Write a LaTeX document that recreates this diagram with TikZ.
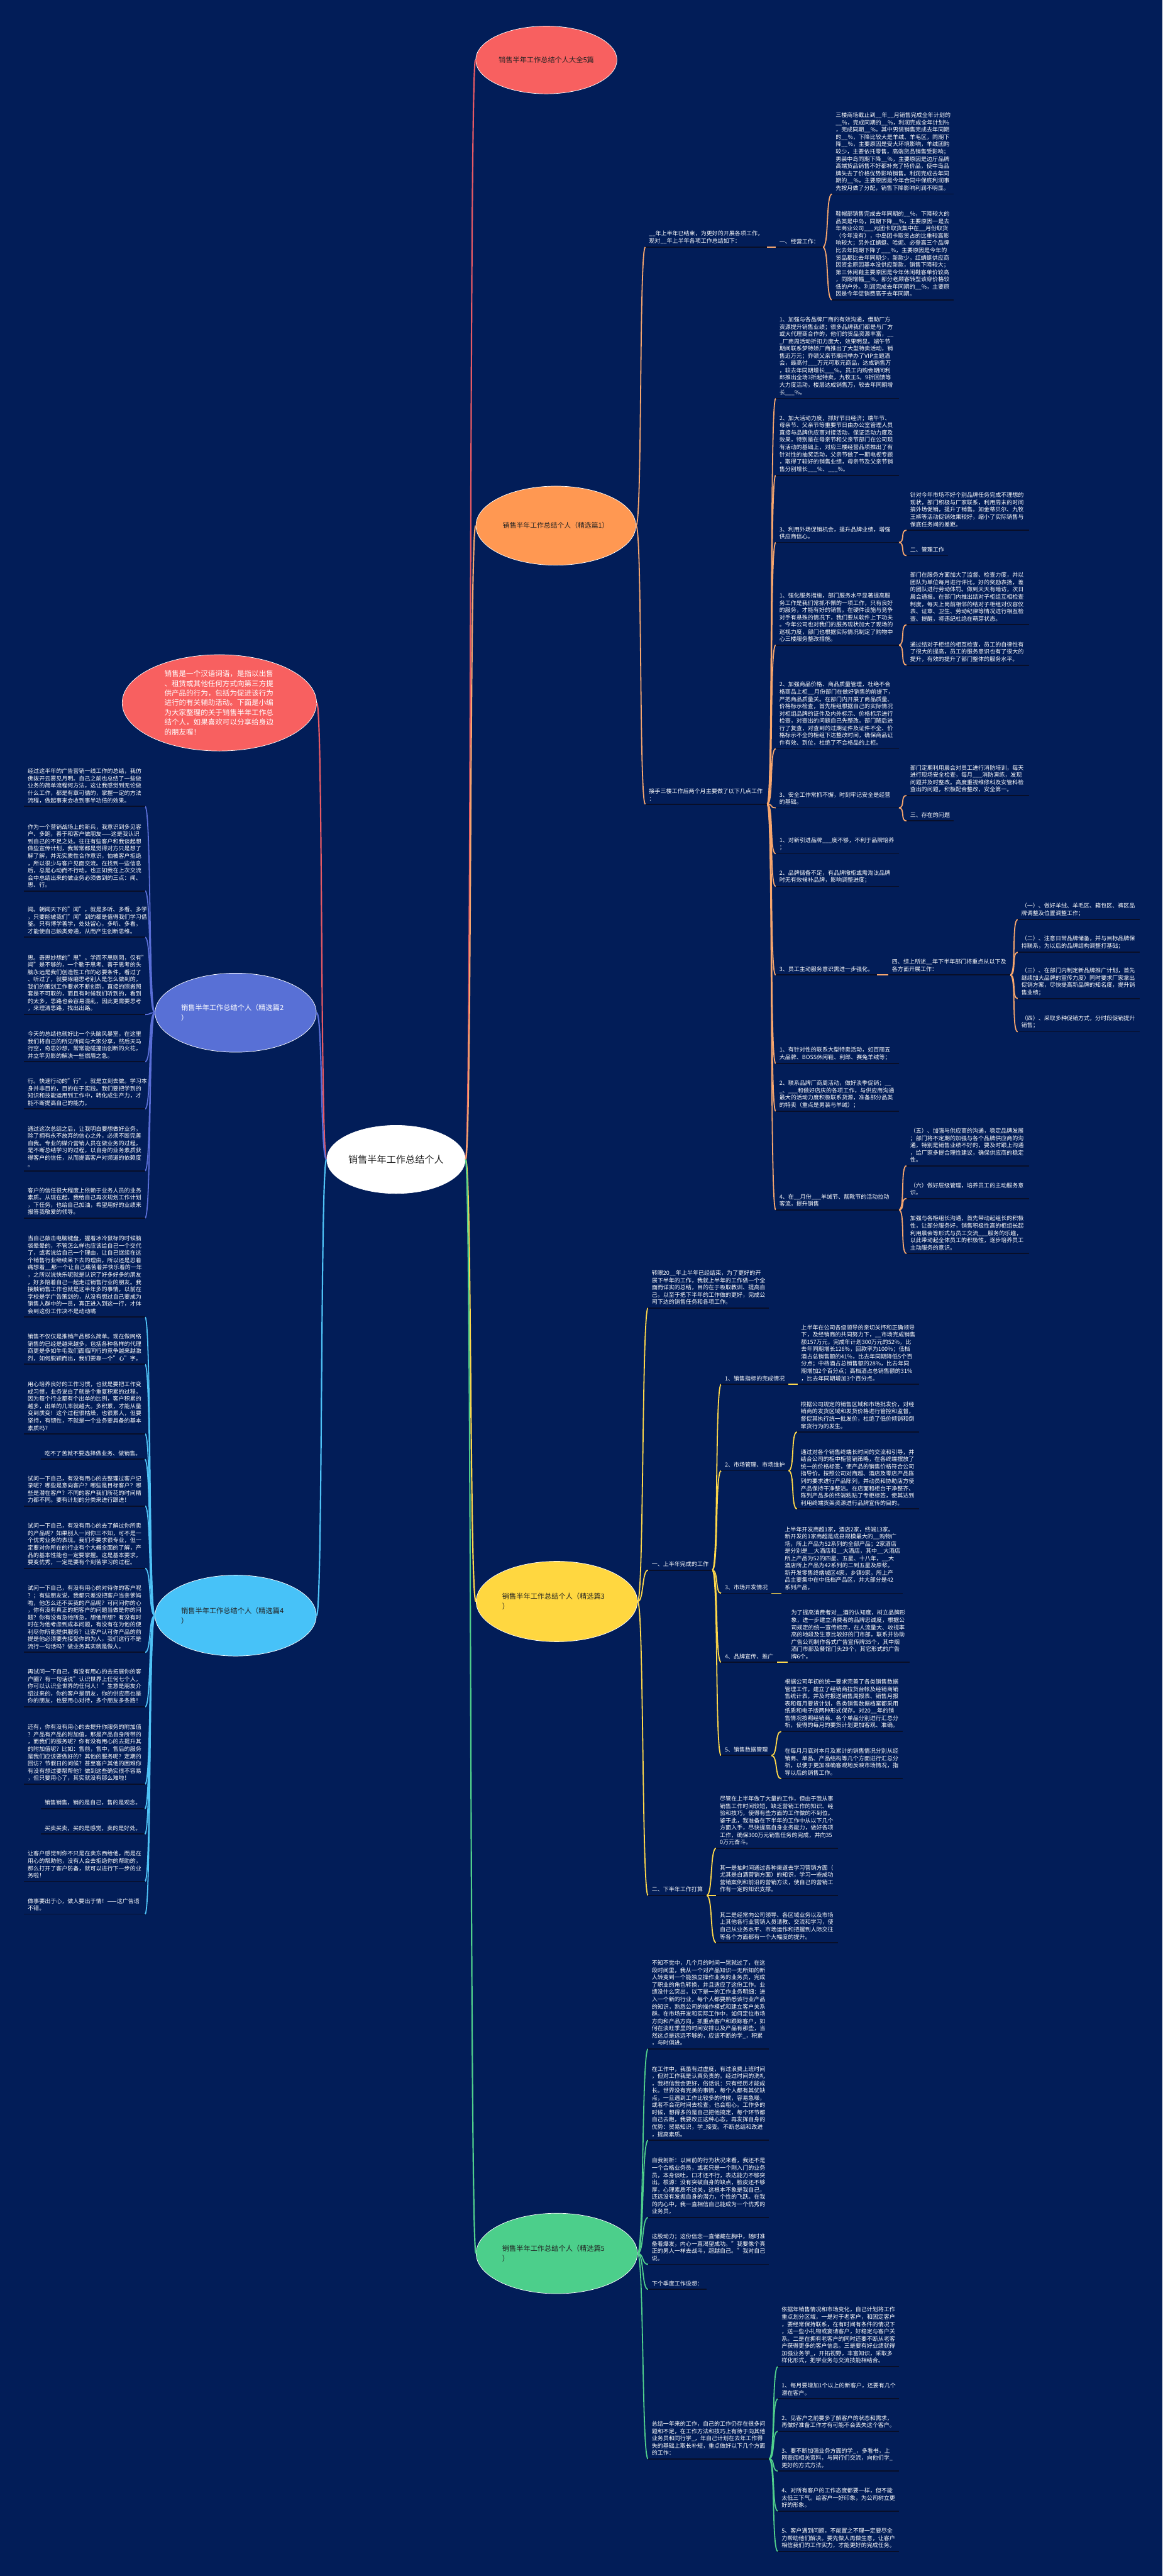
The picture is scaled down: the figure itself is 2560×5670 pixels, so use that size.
\documentclass[tikz,border=0pt]{standalone}
\usepackage{fontspec}
\setmainfont{Noto Sans CJK SC}
\usetikzlibrary{shapes.geometric}
\definecolor{bg}{RGB}{2,29,88}
\definecolor{ulc}{RGB}{8,14,40}
\definecolor{txd}{RGB}{34,34,34}
\definecolor{cOr}{RGB}{247,166,110}
\definecolor{cRd}{RGB}{232,90,100}
\definecolor{cBl}{RGB}{90,110,215}
\definecolor{cCy}{RGB}{79,195,247}
\definecolor{cYe}{RGB}{255,216,74}
\definecolor{cGr}{RGB}{80,208,140}
\definecolor{fRd}{RGB}{248,96,96}
\definecolor{fOr}{RGB}{255,152,82}
\definecolor{fBl}{RGB}{88,112,214}
\definecolor{fCy}{RGB}{71,194,248}
\definecolor{fYe}{RGB}{255,215,64}
\definecolor{fGr}{RGB}{76,207,139}
\tikzset{
 tb/.style={anchor=south west, inner xsep=8pt, inner ysep=7pt, text=white, align=left, font=\fontsize{12.5}{16}\selectfont},
 tbr/.style={tb, anchor=south east},
 ulline/.style={draw=ulc, line width=2.5pt},
 ell/.style={ellipse, draw=white, line width=1pt, inner sep=0pt},
 cn/.style={line width=2.5pt, draw=#1},
 mcn/.style={line width=3pt, draw=#1},
}
\newcommand\rc[3]{\draw[cn=#1] (#2.south east) .. controls +(14,0) and +(-14,0) .. (#3.south west);}
\newcommand\erc[3]{\draw[cn=#1] (#2.east) .. controls +(14,0) and +(-14,0) .. (#3.south west);}
\newcommand\elc[3]{\draw[cn=#1] (#2.west) .. controls +(-14,0) and +(14,0) .. (#3.south east);}
\begin{document}
\begin{tikzpicture}[x=1pt,y=-1pt]
\fill[bg] (0,0) rectangle (2560,5670);
\useasboundingbox (0,0) rectangle (2560,5670);

% ===== main ellipses
\node[ell, fill=white, minimum width=305, minimum height=150, text=txd, font=\fontsize{21}{24}\selectfont] (c) at (872,2552) {销售半年工作总结个人};
\node[ell, fill=fRd, minimum width=311, minimum height=149, text=txd, font=\fontsize{15.5}{18}\selectfont] (tr) at (1203,132) {销售半年工作总结个人大全5篇};
\node[ell, fill=fOr, minimum width=352, minimum height=174, text=txd, font=\fontsize{15}{18}\selectfont] (o) at (1224,1157) {销售半年工作总结个人（精选篇1）};
\node[ell, fill=fYe, minimum width=355, minimum height=177, text=txd, font=\fontsize{15.5}{22}\selectfont, align=left, text width=240] (y) at (1226,3525) {销售半年工作总结个人（精选篇3\\）};
\node[ell, fill=fGr, minimum width=355, minimum height=177, text=txd, font=\fontsize{15.5}{22}\selectfont, align=left, text width=240] (g) at (1226,4960) {销售半年工作总结个人（精选篇5\\）};
\node[ell, fill=fRd, minimum width=428, minimum height=212, text=white, font=\fontsize{16}{21.3}\selectfont, align=left, text width=242] (lr) at (483,1547) {销售是一个汉语词语，是指以出售\\、租赁或其他任何方式向第三方提\\供产品的行为，包括为促进该行为\\进行的有关辅助活动。下面是小编\\为大家整理的关于销售半年工作总\\结个人，如果喜欢可以分享给身边\\的朋友喔！};
\node[ell, fill=fBl, minimum width=355, minimum height=174, text=white, font=\fontsize{15.5}{22}\selectfont, align=left, text width=240] (b) at (519,2229) {销售半年工作总结个人（精选篇2\\）};
\node[ell, fill=fCy, minimum width=355, minimum height=178, text=txd, font=\fontsize{15.5}{22}\selectfont, align=left, text width=240] (cy) at (519,3556) {销售半年工作总结个人（精选篇4\\）};

\draw[mcn=cRd] (c.east) .. controls +(14,0) and +(-14,0) .. (tr.west);
\draw[mcn=cOr] (c.east) .. controls +(14,0) and +(-14,0) .. (o.west);
\draw[mcn=cYe] (c.east) .. controls +(14,0) and +(-14,0) .. (y.west);
\draw[mcn=cGr] (c.east) .. controls +(14,0) and +(-14,0) .. (g.west);
\draw[mcn=cRd] (c.west) .. controls +(-14,0) and +(14,0) .. (lr.east);
\draw[mcn=cBl] (c.west) .. controls +(-14,0) and +(14,0) .. (b.east);
\draw[mcn=cCy] (c.west) .. controls +(-14,0) and +(14,0) .. (cy.east);

% ===== ORANGE branch
\node[tb, text width=252] (o1) at (1421,544) {\_\_年上半年已结束，为更好的开展各项工作，\\现对\_\_年上半年各项工作总结如下：};
\node[tb] (o1a) at (1708,544) {一、经营工作：};
\node[tb, text width=252] (o1a1) at (1832,427) {三楼商场截止到\_\_年\_\_月销售完成全年计划的\\\_\_\%，完成同期的\_\_\%，利润完成全年计划\%\\，完成同期\_\_\%。其中男装销售完成去年同期\\的\_\_\%，下降比较大是羊绒、羊毛区，同期下\\降\_\_\%，主要原因是受大环境影响，羊绒团购\\较少，主要依托零售，高端货品销售受影响；\\男装中岛同期下降\_\_\%，主要原因是边厅品牌\\高端货品销售不好都补充了特价品，使中岛品\\牌失去了价格优势影响销售。利润完成去年同\\期的\_\_\%，主要原因是今年合同中保底利润事\\先按月做了分配，销售下降影响利润不明显。};
\node[tb, text width=252] (o1a2) at (1832,660) {鞋帽部销售完成去年同期的\_\_\%，下降较大的\\品类是中岛，同期下降\_\_\%，主要原因一是去\\年商业公司\_\_\_元团卡取货集中在\_\_月份取货\\（今年没有），中岛团卡取货占的比重较高影\\响较大；另外红蜻蜓、哈妮、必登高三个品牌\\比去年同期下降了\_\_\_\%，主要原因是今年的\\货品都比去年同期少，新款少，红蜻蜓供应商\\因资金原因基本没供应新款，销售下降较大；\\第三休闲鞋主要原因是今年休闲鞋客单价较高\\，同期增幅\_\_\%，部分老顾客转型该穿价格较\\低的户外。利润完成去年同期的\_\_\%，主要原\\因是今年促销费高于去年同期。};
\node[tb, text width=252] (o2) at (1421,1770) {接手三楼工作后两个月主要做了以下几点工作\\：};
\node[tb, text width=255] (o2c1) at (1708,877) {1、加强与各品牌厂商的有效沟通，借助厂方\\资源提升销售业绩；很多品牌我们都是与厂方\\或大代理商合作的，他们的货品资源丰富，\_\_\\\_厂商周活动折扣力度大，效果明显。端午节\\期间联系梦特娇厂商推出了大型特卖活动，销\\售近万元；乔顿父亲节期间举办了VIP主题酒\\会，最高付\_\_\_万元可取元商品，达成销售万\\，较去年同期增长\_\_\_\%。员工内购会期间利\\郎推出全场3折起特卖，九牧王5。9折回馈等\\大力度活动，楼层达成销售万，较去年同期增\\长\_\_\_\%。};
\node[tb, text width=255] (o2c2) at (1708,1046) {2、加大活动力度，抓好节日经济；端午节、\\母亲节、父亲节等重要节日由办公室管理人员\\直接与品牌供应商对接活动，保证活动力度及\\效果，特别是在母亲节和父亲节部门在公司现\\有活动的基础上，对应三楼经营品项推出了有\\针对性的抽奖活动，父亲节做了一期电视专题\\，取得了较好的销售业绩，母亲节及父亲节销\\售分别增长\_\_\_\%、\_\_\_\%。};
\node[tb, text width=255] (o2c3) at (1708,1194) {3、利用外场促销机会，提升品牌业绩，增强\\供应商信心。};
\node[tb, text width=254] (o2c3a) at (1996,1167) {针对今年市场不好个别品牌任务完成不理想的\\现状，部门积极与厂家联系，利用周末的时间\\搞外场促销，提升了销售。如金蒂贝尔、九牧\\王裤等活动促销效果较好，缩小了实际销售与\\保底任务间的差距。};
\node[tb] (o2c3b) at (1996,1223) {二、管理工作};
\node[tb, text width=255] (o2c4) at (1708,1420) {1、强化服务措施，部门服务水平显著提高服\\务工作是我们常抓不懈的一项工作，只有良好\\的服务，才能有好的销售。在硬件设施与竞争\\对手有悬殊的情况下，我们要从软件上下功夫\\。今年公司也对我们的服务现状加大了现场的\\巡视力度，部门也根据实际情况制定了购物中\\心三楼服务整改措施。};
\node[tb, text width=254] (o2c4a) at (1996,1375) {部门在服务方面加大了监督、检查力度，并以\\团队为单位每月进行评比，好的奖励表扬，差\\的团队进行劳动体罚。做到天天有暗访，次日\\晨会通报。在部门内推出结对子柜组互相检查\\制度，每天上岗前相邻的结对子柜组对仪容仪\\表、证章、卫生、劳动纪律等情况进行相互检\\查、提醒，将违纪杜绝在萌芽状态。};
\node[tb, text width=254] (o2c4b) at (1996,1464) {通过结对子柜组的相互检查，员工的自律性有\\了很大的提高，员工的服务意识也有了很大的\\提升，有效的提升了部门整体的服务水平。};
\node[tb, text width=255] (o2c5) at (1708,1648) {2、加强商品价格、商品质量管理，杜绝不合\\格商品上柜\_\_月份部门在做好销售的前提下，\\严把商品质量关。在部门内开展了商品质量、\\价格标示检查，首先柜组根据自己的实际情况\\对柜组品牌的证件及内外标示、价格标示进行\\检查，对查出的问题自己先整改。部门随后进\\行了复查，对查到的过期证件及证件不全、价\\格标示不全的柜组下达整改时间，确保商品证\\件有效、到位，杜绝了不合格品的上柜。};
\node[tb, text width=255] (o2c6) at (1708,1778) {3、安全工作常抓不懈，时刻牢记安全是经营\\的基础。};
\node[tb, text width=254] (o2c6a) at (1996,1751) {部门定期利用晨会对员工进行消防培训，每天\\进行现场安全检查，每月\_\_\_消防演练，发现\\问题并及时整改。高度重视维修科及安管科检\\查出的问题，积极配合整改，安全第一。};
\node[tb] (o2c6b) at (1996,1807) {三、存在的问题};
\node[tb, text width=255] (o2c7) at (1708,1879) {1、对新引进品牌\_\_\_度不够，不利于品牌培养\\；};
\node[tb, text width=255] (o2c8) at (1708,1951) {2、品牌储备不足，有品牌撤柜或需淘汰品牌\\时无有效候补品牌，影响调整进度；};
\node[tb] (o2c9) at (1708,2146) {3、员工主动服务意识需进一步强化。};
\node[tb, text width=252] (o2c9a) at (1956,2146) {四、综上所述\_\_年下半年部门将重点从以下及\\各方面开展工作：};
\node[tb, text width=252] (q1) at (2241,2024) {（一）、做好羊绒、羊毛区、箱包区、裤区品\\牌调整及位置调整工作；};
\node[tb, text width=252] (q2) at (2241,2096) {（二）、注意日常品牌储备，并与目标品牌保\\持联系，为以后的品牌结构调整打基础；};
\node[tb, text width=252] (q3) at (2241,2198) {（三）、在部门内制定新品牌推广计划，首先\\继续加大品牌的宣传力度）同时要求厂家拿出\\促销方案，尽快提高新品牌的知名度，提升销\\售业绩；};
\node[tb, text width=252] (q4) at (2241,2271) {（四）、采取多种促销方式，分时段促销提升\\销售；};
\node[tb, text width=255] (o2c10) at (1708,2341) {1、有针对性的联系大型特卖活动，如百丽五\\大品牌、BOSS休闲鞋、利郎、赛兔羊绒等；};
\node[tb, text width=255] (o2c11) at (1708,2446) {2、联系品牌厂商周活动，做好淡季促销；\_\_\\\_、\_\_\_和做好店庆的各项工作，与供应商沟通\\最大的活动力度积极联系货源，准备部分品类\\的特卖（重点是男装与羊绒）；};
\node[tb, text width=255] (o2c12) at (1708,2663) {4、在\_\_月份\_\_\_羊绒节、靓靴节的活动拉动\\客流，提升销售};
\node[tb, text width=254] (r1) at (1996,2566) {（五）、加强与供应商的沟通，稳定品牌发展\\；部门将不定期的加强与各个品牌供应商的沟\\通，特别是销售业绩不好的，要及时跟上沟通\\，给厂家多提合理性建议，确保供应商的稳定\\性。};
\node[tb, text width=254] (r2) at (1996,2638) {（六）做好层级管理，培养员工的主动服务意\\识。};
\node[tb, text width=254] (r3) at (1996,2759) {加强与各柜组长沟通，首先带动起组长的积极\\性，让部分服务好，销售积极性高的柜组长起\\利用晨会等形式与员工交流\_\_\_服务的乐趣，\\以此带动起全体员工的积极性，逐步培养员工\\主动服务的意识。};

\erc{cOr}{o}{o1} \erc{cOr}{o}{o2}
\rc{cOr}{o1}{o1a} \rc{cOr}{o1a}{o1a1} \rc{cOr}{o1a}{o1a2}
\foreach \k in {o2c1,o2c2,o2c3,o2c4,o2c5,o2c6,o2c7,o2c8,o2c9,o2c10,o2c11,o2c12} {\rc{cOr}{o2}{\k}}
\rc{cOr}{o2c3}{o2c3a} \rc{cOr}{o2c3}{o2c3b}
\rc{cOr}{o2c4}{o2c4a} \rc{cOr}{o2c4}{o2c4b}
\rc{cOr}{o2c6}{o2c6a} \rc{cOr}{o2c6}{o2c6b}
\rc{cOr}{o2c9}{o2c9a}
\foreach \k in {q1,q2,q3,q4} {\rc{cOr}{o2c9a}{\k}}
\foreach \k in {r1,r2,r3} {\rc{cOr}{o2c12}{\k}}

% ===== YELLOW branch
\node[tb, text width=250] (y1) at (1427,2879) {转眼20\_\_年上半年已经结束，为了更好的开\\展下半年的工作，我就上半年的工作做一个全\\面而详实的总结，目的在于吸取教训、提高自\\己，以至于把下半年的工作做的更好，完成公\\司下达的销售任务和各项工作。};
\node[tb] (y2) at (1427,3456) {一、上半年完成的工作};
\node[tb] (y2a) at (1588,3047) {1、销售指标的完成情况};
\node[tb, text width=252] (y2a1) at (1756,3047) {上半年在公司各级领导的亲切关怀和正确领导\\下，及经销商的共同努力下，\_\_市场完成销售\\额157万元，完成年计划300万元的52\%，比\\去年同期增长126\%，回款率为100\%；低档\\酒占总销售额的41\%，比去年同期降低5个百\\分点；中档酒占总销售额的28\%，比去年同\\期增加2个百分点；高档酒占总销售额的31\%\\，比去年同期增加3个百分点。};
\node[tb] (y2b) at (1588,3237) {2、市场管理、市场维护};
\node[tb, text width=252] (y2b1) at (1755,3152) {根据公司规定的销售区域和市场批发价，对经\\销商的发货区域和发货价格进行管控和监督，\\督促其执行统一批发价，杜绝了低价倾销和倒\\窜货行为的发生。};
\node[tb, text width=252] (y2b2) at (1755,3321) {通过对各个销售终端长时间的交流和引导，并\\结合公司的柜中柜营销策略，在各终端摆放了\\统一的价格标签，使产品的销售价格符合公司\\指导价。按照公司对商超、酒店及零店产品陈\\列的要求进行产品陈列，并动员和协助店方使\\产品保持干净整洁。在店面和柜台干净整齐、\\陈列产品多的终端粘贴了专柜标签，使其达到\\利用终端货架资源进行品牌宣传的目的。};
\node[tb] (y2c) at (1588,3507) {3、市场开发情况};
\node[tb, text width=252] (y2c1) at (1720,3507) {上半年开发商超1家，酒店2家，终端13家。\\新开发的1家商超是成县规模最大的\_\_购物广\\场，所上产品为52系列的全部产品；2家酒店\\是分别是\_\_大酒店和\_\_大酒店，其中\_\_大酒店\\所上产品为52的四星、五星、十八年，\_\_大\\酒店所上产品为42系列的二到五星及原浆。\\新开发零售终端城区4家，乡镇9家，所上产\\品主要集中在中低档产品区，并大部分是42\\系列产品。};
\node[tb] (y2d) at (1588,3659) {4、品牌宣传、推广};
\node[tb, text width=252] (y2d1) at (1734,3659) {为了提高消费者对\_\_酒的认知度，树立品牌形\\象，进一步建立消费者的品牌忠诚度，根据公\\司规定的统一宣传标示，在人流量大、收视率\\高的地段及生意比较好的门市部，联系并协助\\广告公司制作各式广告宣传牌35个，其中烟\\酒门市部及餐馆门头29个，其它形式的广告\\牌6个。};
\node[tb] (y2e) at (1588,3864) {5、销售数据管理};
\node[tb, text width=252] (y2e1) at (1720,3811) {根据公司年初的统一要求完善了各类销售数据\\管理工作，建立了经销商拉货台帐及经销商销\\售统计表，并及时报送销售周报表、销售月报\\表和每月要货计划，各类销售数据档案都采用\\纸质和电子版两种形式保存。对20\_\_年的销\\售情况按照经销商、各个单品分别进行汇总分\\析，使得的每月的要货计划更加客观、准确。};
\node[tb, text width=252] (y2e2) at (1720,3915) {在每月月底对本月及累计的销售情况分别从经\\销商、单品、产品结构等几个方面进行汇总分\\析，以便于更加准确客观地反映市场情况，指\\导以后的销售工作。};
\node[tb] (y3) at (1427,4172) {二、下半年工作打算};
\node[tb, text width=252] (y3a) at (1577,4068) {尽管在上半年做了大量的工作，但由于我从事\\销售工作时间较短，缺乏营销工作的知识、经\\验和技巧，使得有些方面的工作做的不到位。\\鉴于此，我准备在下半年的工作中从以下几个\\方面入手，尽快提高自身业务能力，做好各项\\工作，确保300万元销售任务的完成，并向35\\0万元奋斗。};
\node[tb, text width=252] (y3b) at (1577,4172) {其一是抽时间通过各种渠道去学习营销方面（\\尤其是白酒营销方面）的知识，学习一些成功\\营销案例和前沿的营销方法，使自己的营销工\\作有一定的知识支撑。};
\node[tb, text width=252] (y3c) at (1577,4276) {其二是经常向公司领导、各区域业务以及市场\\上其他各行业营销人员请教、交流和学习，使\\自己从业务水平、市场运作和把握到人际交往\\等各个方面都有一个大幅度的提升。};

\erc{cYe}{y}{y1} \erc{cYe}{y}{y2} \erc{cYe}{y}{y3}
\foreach \k in {y2a,y2b,y2c,y2d,y2e} {\rc{cYe}{y2}{\k}}
\rc{cYe}{y2a}{y2a1} \rc{cYe}{y2b}{y2b1} \rc{cYe}{y2b}{y2b2}
\rc{cYe}{y2c}{y2c1} \rc{cYe}{y2d}{y2d1}
\rc{cYe}{y2e}{y2e1} \rc{cYe}{y2e}{y2e2}
\foreach \k in {y3a,y3b,y3c} {\rc{cYe}{y3}{\k}}

% ===== GREEN branch
\node[tb, text width=250] (g1) at (1427,4510) {不知不觉中，几个月的时间一晃就过了，在这\\段时间里，我从一个对产品知识一无所知的新\\人转变到一个能独立操作业务的业务员，完成\\了职业的角色转换，并且适应了这份工作。业\\绩没什么突出，以下是一的工作业务明细：进\\入一个新的行业，每个人都要熟悉该行业产品\\的知识，熟悉公司的操作模式和建立客户关系\\群。在市场开发和实际工作中，如何定位市场\\方向和产品方向，抓重点客户和跟踪客户，如\\何在淡旺季里的时间安排以及产品有那些，当\\然这点是远远不够的，应该不断的学\_，积累\\，与时俱进。};
\node[tb, text width=250] (g2) at (1427,4711) {在工作中，我虽有过虚度，有过浪费上班时间\\，但对工作我是认真负责的。经过时间的洗礼\\，我相信我会更好，俗话说：只有经历才能成\\长。世界没有完美的事情，每个人都有其优缺\\点，一旦遇到工作比较多的时候，容易急噪，\\或者不会花时间去检查，也会粗心。工作多的\\时候，想得多的是自己把他搞定，每个环节都\\自己去跑，我要改正这种心态，再发挥自身的\\优势：贸易知识，学\_接受。不断总结和改进\\，提高素质。};
\node[tb, text width=250] (g3) at (1427,4881) {自我剖析：以目前的行为状况来看，我还不是\\一个合格业务员，或者只是一个刚入门的业务\\员，本身谈吐，口才还不行，表达能力不够突\\出。根源：没有突破自身的缺点，脸皮还不够\\厚，心理素质不过关，这根本不象是我自己，\\还远没有发掘自身的潜力，个性的飞跃。在我\\的内心中，我一直相信自己能成为一个优秀的\\业务员，};
\node[tb, text width=250] (g4) at (1427,4984) {这股动力；这份信念一直储藏在胸中，随时准\\备着爆发，内心一直渴望成功。"我要像个真\\正的男人一样去战斗，超越自己。"我对自己\\说。};
\node[tb] (g5) at (1427,5039) {下个季度工作设想：};
\node[tb, text width=250] (g6) at (1427,5412) {总结一年来的工作，自己的工作仍存在很多问\\题和不足，在工作方法和技巧上有待于向其他\\业务员和同行学\_，年自己计划在去年工作得\\失的基础上取长补短，重点做好以下几个方面\\的工作：};
\node[tb, text width=250] (g6a) at (1713,5209) {依据年销售情况和市场变化，自己计划将工作\\重点划分区域，一是对于老客户，和固定客户\\，要经常保持联系，在有时间有条件的情况下\\，送一些小礼物或宴请客户，好稳定与客户关\\系。二是在拥有老客户的同时还要不断从老客\\户获得更多的客户信息。三是要有好业绩就得\\加强业务学\_，开拓视野，丰富知识，采取多\\样化形式，把学业务与交流技能相结合。};
\node[tb, text width=250] (g6b) at (1713,5280) {1、每月要增加1个以上的新客户，还要有几个\\潜在客户。};
\node[tb, text width=250] (g6c) at (1713,5351) {2、见客户之前要多了解客户的状态和需求，\\再做好准备工作才有可能不会丢失这个客户。};
\node[tb, text width=250] (g6d) at (1713,5439) {3、要不断加强业务方面的学\_，多看书，上\\网查阅相关资料，与同行们交流，向他们学\_\\更好的方式方法。};
\node[tb, text width=250] (g6e) at (1713,5527) {4、对所有客户的工作态度都要一样，但不能\\太低三下气。给客户一好印象，为公司树立更\\好的形象。};
\node[tb, text width=250] (g6f) at (1713,5616) {5、客户遇到问题，不能置之不理一定要尽全\\力帮助他们解决。要先做人再做生意，让客户\\相信我们的工作实力，才能更好的完成任务。};

\foreach \k in {g1,g2,g3,g4,g5,g6} {\erc{cGr}{g}{\k}}
\foreach \k in {g6a,g6b,g6c,g6d,g6e,g6f} {\rc{cGr}{g6}{\k}}

% ===== BLUE branch (left)
\node[tb, text width=250] (b1) at (53,1775) {经过这半年的广告营销一线工作的总结，我仿\\佛拨开云雾见月明。自己之前也总结了一些做\\业务的简单流程何方法，这让我感觉到无论做\\什么工作，都是有章可循的，掌握一定的方法\\流程，做起事来会收到事半功倍的效果。};
\node[tb, text width=250] (b2) at (53,1961) {作为一个营销战场上的新兵，我意识到多见客\\户、多跑，善于和客户做朋友——这是我认识\\到自己的不足之处。往往有些客户和我谈起想\\做些宣传计划，我常常都是觉得对方只是想了\\解了解，并无实质性合作意识，怕被客户拒绝\\，所以很少与客户见面交流。在找到一些信息\\后，总是心动而不行动。也正如我在上次交流\\会中总结出来的做业务必须做到的三点：闻、\\思、行。};
\node[tb, text width=250] (b3) at (53,2063) {闻。朝闻天下的"闻"，就是多听、多看、多学\\，只要能被我们"闻"到的都是值得我们学习借\\鉴。只有博学善学，处处留心，多听、多看，\\才能使自己触类旁通，从而产生创新思维。};
\node[tb, text width=250] (b4) at (53,2233) {思。奇思妙想的"思"。学而不思则罔，仅有"\\闻"是不够的，一个勤于思考、善于思考的头\\脑永远是我们创造性工作的必要条件。看过了\\、听过了，就要琢磨思考别人是怎么做到的，\\我们的策划工作要求不断创新，直接的照搬照\\套是不可取的，而且有时候我们听到的，看到\\的太多，思路也会容易混乱，因此更需要思考\\，来理清思路，找出出路。};
\node[tb, text width=250] (b5) at (53,2337) {今天的总结也就好比一个头脑风暴室，在这里\\我们将自己的所见所闻与大家分享，然后天马\\行空，奇思妙想，常常能碰撞出创新的火花，\\并立竿见影的解决一些燃眉之急。};
\node[tb, text width=250] (b6) at (53,2441) {行。快速行动的"行"，就是立刻去做。学习本\\身并非目的，目的在于实践。我们要把学到的\\知识和技能运用到工作中，转化成生产力，才\\能不断提高自己的能力。};
\node[tb, text width=250] (b7) at (53,2577) {通过这次总结之后，让我明白要想做好业务，\\除了拥有永不放弃的信心之外，必须不断完善\\自我。专业的媒介营销人员在做业务的过程，\\是不断总结学习的过程，以自身的业务素质获\\得客户的信任，从而提高客户对频道的依赖度\\。};
\node[tb, text width=250] (b8) at (53,2681) {客户的信任很大程度上依赖于业务人员的业务\\素质。从现在起，我给自己再次规划工作计划\\，下任务，也给自己加油，希望用好的业绩来\\报答我敬爱的领导。};
\foreach \k in {b1,b2,b3,b4,b5,b6,b7,b8} {\elc{cBl}{b}{\k}}

% ===== CYAN branch (left)
\node[tb, text width=250] (c1) at (53,2899) {当自己敲击电脑键盘，握着冰冷鼠标的时候脑\\袋晕晕的，不管怎么样也应该给自己一个交代\\了，或者说给自己一个理由，让自己继续在这\\个销售行业继续呆下去的理由，所以还是忍着\\痛想着\_\_那一个让自己痛苦着并快乐着的一年\\，之所以说快乐呢就是认识了好多好多的朋友\\，好多陪着自己一起走过销售行业的朋友。我\\接触销售工作也就是这半年多的事情，以前在\\学校是学广告策划的，从没有想过自己要成为\\销售人群中的一员，真正进入到这一行，才体\\会到这份工作决不是动动嘴};
\node[tb, text width=250] (c2) at (53,3003) {销售不仅仅是推销产品那么简单。现在做网络\\销售的已经是越来越多，包括各种各样的代理\\商更是多如牛毛我们面临同行的竞争越来越激\\烈，如何脱颖而出，我们要靠一个"心"字。};
\node[tb, text width=250] (c3) at (53,3156) {用心培养良好的工作习惯，也就是要把工作变\\成习惯，业务说白了就是个重复积累的过程，\\因为每个行业都有个出单的比例，客户积累的\\越多，出单的几率就越大。多积累，才能从量\\变到质变！这个过程很枯燥，也很累人，但要\\坚持，有韧性，不就是一个业务要具备的基本\\素质吗？};
\node[tbr] (c4) at (319,3212) {吃不了苦就不要选择做业务、做销售。};
\node[tb, text width=250] (c5) at (53,3315) {试问一下自己，有没有用心的去整理过客户记\\录呢？哪些是意向客户？哪些是目标客户？哪\\些是潜在客户？不同的客户我们所花的时间精\\力都不同。要有计划的分类来进行跟进！};
\node[tb, text width=250] (c6) at (53,3452) {试问一下自己，有没有用心的去了解过你所卖\\的产品呢？如果别人一问你三不知，可不是一\\个优秀业务的表现。我们不要求很专业，但一\\定要对你所在的行业有个大概全面的了解，产\\品的基本性能也一定要掌握。这是基本要求，\\要变优秀，一定是要有个刻苦学习的过程。};
\node[tb, text width=250] (c7) at (53,3637) {试问一下自己，有没有用心的对待你的客户呢\\？；有些朋友说，我都只差没把客户当亲爹妈\\啦，他怎么还不买我的产品呢？可问问你的心\\，你有没有真正的把客户的问题当做是你的问\\题？你有没有急他所急，想他所想？有没有时\\时在为他考虑到成本问题，有没有在为他的便\\利尽你所能提供服务？让客户认可你产品的前\\提是他必须要先接受你的为人，我们这行不是\\流行一句话吗？做业务其实就是做人。};
\node[tb, text width=250] (c8) at (53,3757) {再试问一下自己，有没有用心的去拓展你的客\\户圈？有一句话说"认识世界上任何七个人，\\你可以认识全世界的任何人！"生意是朋友介\\绍过来的，你的客户是朋友，你的供应商也是\\你的朋友，也要用心对待，多个朋友多条路！};
\node[tb, text width=250] (c9) at (53,3927) {还有，你有没有用心的去提升你服务的附加值\\？产品有产品的附加值，那是产品自身所带的\\，而我们的服务呢？你有没有用心的去提升其\\的附加值呢？比如：售前，售中，售后的服务\\是我们应该要做好的？其他的服务呢？定期的\\回访？节假日的问候？甚至客户其他的困难你\\有没有想过要帮帮他？做到这些确实很不容易\\，但只要用心了，其实就没有那么难啦！};
\node[tbr] (c10) at (319,3981) {销售销售，销的是自己，售的是观念。};
\node[tbr] (c11) at (319,4037) {买卖买卖，买的是感觉，卖的是好处。};
\node[tb, text width=250] (c12) at (53,4141) {让客户感觉到你不只是在卖东西给他，而是在\\用心的帮助他，没有人会去拒绝你的帮助的，\\那么打开了客户防备，就可以进行下一步的业\\务啦！};
\node[tb, text width=250] (c13) at (53,4213) {做事要出于心，做人要出于情！——这广告语\\不错。};
\foreach \k in {c1,c2,c3,c4,c5,c6,c7,c8,c9,c10,c11,c12,c13} {\elc{cCy}{cy}{\k}}

% ===== underlines
\foreach \k in {o1,o1a,o1a1,o1a2,o2,o2c1,o2c2,o2c3,o2c3a,o2c3b,o2c4,o2c4a,o2c4b,o2c5,o2c6,o2c6a,o2c6b,o2c7,o2c8,o2c9,o2c9a,q1,q2,q3,q4,o2c10,o2c11,o2c12,r1,r2,r3,
 y1,y2,y2a,y2a1,y2b,y2b1,y2b2,y2c,y2c1,y2d,y2d1,y2e,y2e1,y2e2,y3,y3a,y3b,y3c,
 g1,g2,g3,g4,g5,g6,g6a,g6b,g6c,g6d,g6e,g6f,
 b1,b2,b3,b4,b5,b6,b7,b8,
 c1,c2,c3,c4,c5,c6,c7,c8,c9,c10,c11,c12,c13}
 {\draw[ulline] (\k.south west) -- (\k.south east);}
\end{tikzpicture}
\end{document}
